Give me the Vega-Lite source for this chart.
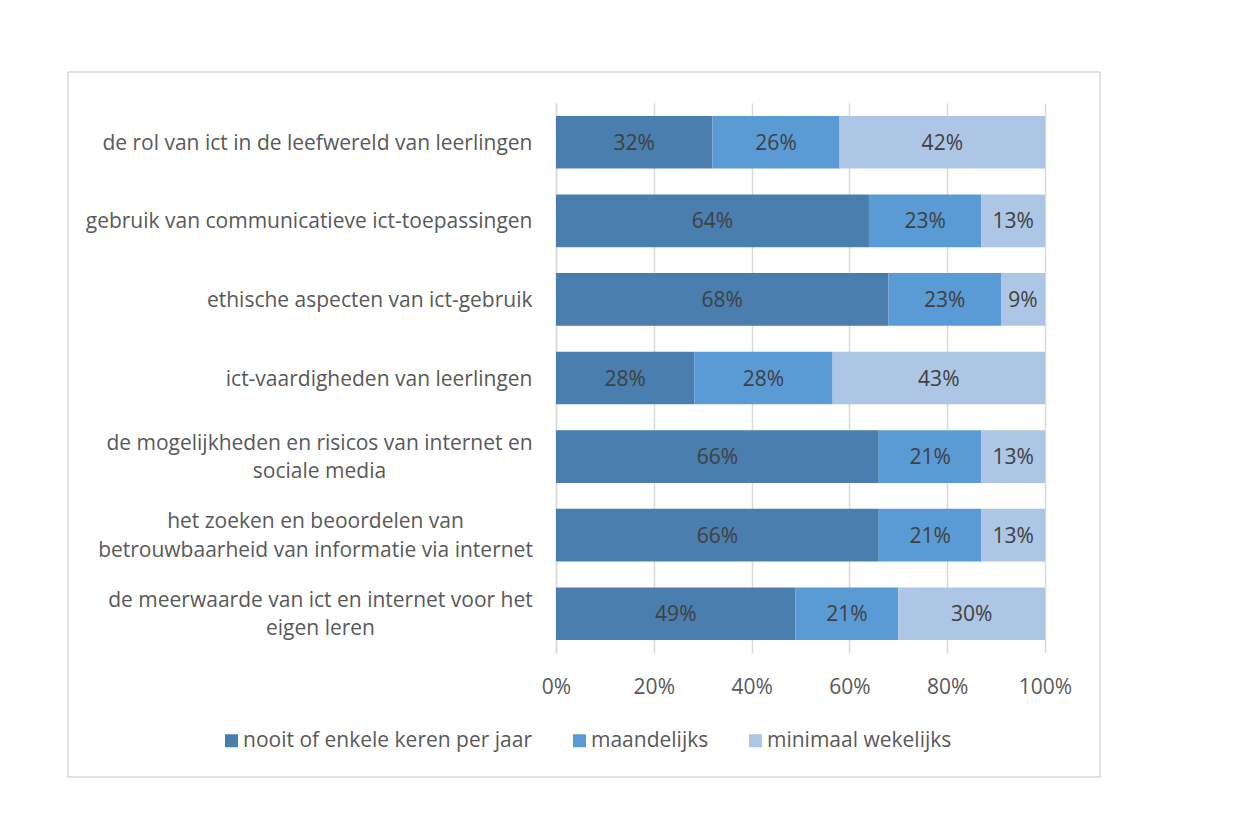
{
  "$schema": "https://vega.github.io/schema/vega-lite/v6.json",
  "width": 1032,
  "height": 705,
  "autosize": {"type": "none"},
  "padding": {"left": 68, "top": 72, "right": 141, "bottom": 57},
  "background": "white",
  "config": {
    "view": {"stroke": "#d9d9d9", "strokeWidth": 1.5},
    "font": "Open Sans"
  },
  "data": {
    "values": [
      {"item": "de rol van ict in de leefwereld van leerlingen", "series": "nooit of enkele keren per jaar", "k": 1, "pct": 0.32},
      {"item": "de rol van ict in de leefwereld van leerlingen", "series": "maandelijks", "k": 2, "pct": 0.26},
      {"item": "de rol van ict in de leefwereld van leerlingen", "series": "minimaal wekelijks", "k": 3, "pct": 0.42},
      {"item": "gebruik van communicatieve ict-toepassingen", "series": "nooit of enkele keren per jaar", "k": 1, "pct": 0.64},
      {"item": "gebruik van communicatieve ict-toepassingen", "series": "maandelijks", "k": 2, "pct": 0.23},
      {"item": "gebruik van communicatieve ict-toepassingen", "series": "minimaal wekelijks", "k": 3, "pct": 0.13},
      {"item": "ethische aspecten van ict-gebruik", "series": "nooit of enkele keren per jaar", "k": 1, "pct": 0.68},
      {"item": "ethische aspecten van ict-gebruik", "series": "maandelijks", "k": 2, "pct": 0.23},
      {"item": "ethische aspecten van ict-gebruik", "series": "minimaal wekelijks", "k": 3, "pct": 0.09},
      {"item": "ict-vaardigheden van leerlingen", "series": "nooit of enkele keren per jaar", "k": 1, "pct": 0.28},
      {"item": "ict-vaardigheden van leerlingen", "series": "maandelijks", "k": 2, "pct": 0.28},
      {"item": "ict-vaardigheden van leerlingen", "series": "minimaal wekelijks", "k": 3, "pct": 0.43},
      {"item": "de mogelijkheden en risicos van internet en\nsociale media", "series": "nooit of enkele keren per jaar", "k": 1, "pct": 0.66},
      {"item": "de mogelijkheden en risicos van internet en\nsociale media", "series": "maandelijks", "k": 2, "pct": 0.21},
      {"item": "de mogelijkheden en risicos van internet en\nsociale media", "series": "minimaal wekelijks", "k": 3, "pct": 0.13},
      {"item": "het zoeken en beoordelen van\nbetrouwbaarheid van informatie via internet", "series": "nooit of enkele keren per jaar", "k": 1, "pct": 0.66},
      {"item": "het zoeken en beoordelen van\nbetrouwbaarheid van informatie via internet", "series": "maandelijks", "k": 2, "pct": 0.21},
      {"item": "het zoeken en beoordelen van\nbetrouwbaarheid van informatie via internet", "series": "minimaal wekelijks", "k": 3, "pct": 0.13},
      {"item": "de meerwaarde van ict en internet voor het\neigen leren", "series": "nooit of enkele keren per jaar", "k": 1, "pct": 0.49},
      {"item": "de meerwaarde van ict en internet voor het\neigen leren", "series": "maandelijks", "k": 2, "pct": 0.21},
      {"item": "de meerwaarde van ict en internet voor het\neigen leren", "series": "minimaal wekelijks", "k": 3, "pct": 0.30}
    ]
  },
  "encoding": {
    "y": {
      "field": "item",
      "type": "nominal",
      "sort": null,
      "title": null,
      "scale": {"range": [31, 581], "paddingInner": 0.33, "paddingOuter": 0.165},
      "axis": {
        "offset": -488,
        "ticks": false,
        "grid": false,
        "domainColor": "#d9d9d9",
        "domainWidth": 1.5,
        "labelExpr": "split(datum.value, '\\n')",
        "labelFont": "Open Sans",
        "labelFontSize": 21,
        "labelColor": "#595959",
        "labelLimit": 0,
        "labelLineHeight": 28.5,
        "labelAlign": {"condition": {"test": "indexof(datum.value, '\\n') >= 0", "value": "center"}, "value": "right"},
        "labelOffset": {"condition": {"test": "indexof(datum.value, '\\n') >= 0", "value": -13}, "value": 1.5},
        "labelPadding": {
          "condition": [
            {"test": "indexof(datum.value, 'mogelijkheden') >= 0", "value": 237},
            {"test": "indexof(datum.value, 'zoeken') >= 0", "value": 241},
            {"test": "indexof(datum.value, 'meerwaarde') >= 0", "value": 236}
          ],
          "value": 24
        }
      }
    }
  },
  "layer": [
    {
      "mark": {"type": "bar"},
      "encoding": {
        "x": {
          "field": "pct",
          "type": "quantitative",
          "stack": "normalize",
          "title": null,
          "scale": {"domain": [0, 1], "range": [488, 977]},
          "axis": {
            "orient": "top",
            "values": [0, 0.2, 0.4, 0.6, 0.8, 1],
            "format": ".0%",
            "domain": false,
            "ticks": false,
            "grid": true,
            "gridColor": "#d9d9d9",
            "gridWidth": 1.5,
            "labelFlush": false,
            "labelFont": "Open Sans",
            "labelFontSize": 21,
            "labelColor": "#595959",
            "labelBaseline": "middle",
            "labelPadding": -615
          }
        },
        "color": {
          "field": "series",
          "type": "nominal",
          "scale": {
            "domain": ["nooit of enkele keren per jaar", "maandelijks", "minimaal wekelijks"],
            "range": ["#4a7eae", "#5b9bd5", "#adc6e5"]
          },
          "legend": {
            "orient": "none",
            "legendX": 153,
            "legendY": 658,
            "direction": "horizontal",
            "title": null,
            "symbolType": "square",
            "symbolSize": 169,
            "symbolStrokeWidth": 0,
            "labelFont": "Open Sans",
            "labelFontSize": 21,
            "labelColor": "#595959",
            "labelLimit": 0,
            "labelOffset": 1,
            "columnPadding": 36,
            "padding": 0
          }
        },
        "order": {"field": "k"}
      }
    },
    {
      "mark": {"type": "text", "color": "#404040", "fontSize": 21, "font": "Open Sans", "dy": 1.5},
      "encoding": {
        "x": {"field": "pct", "type": "quantitative", "stack": "normalize", "bandPosition": 0.5},
        "detail": {"field": "series"},
        "order": {"field": "k"},
        "text": {"field": "pct", "format": ".0%"}
      }
    }
  ]
}
